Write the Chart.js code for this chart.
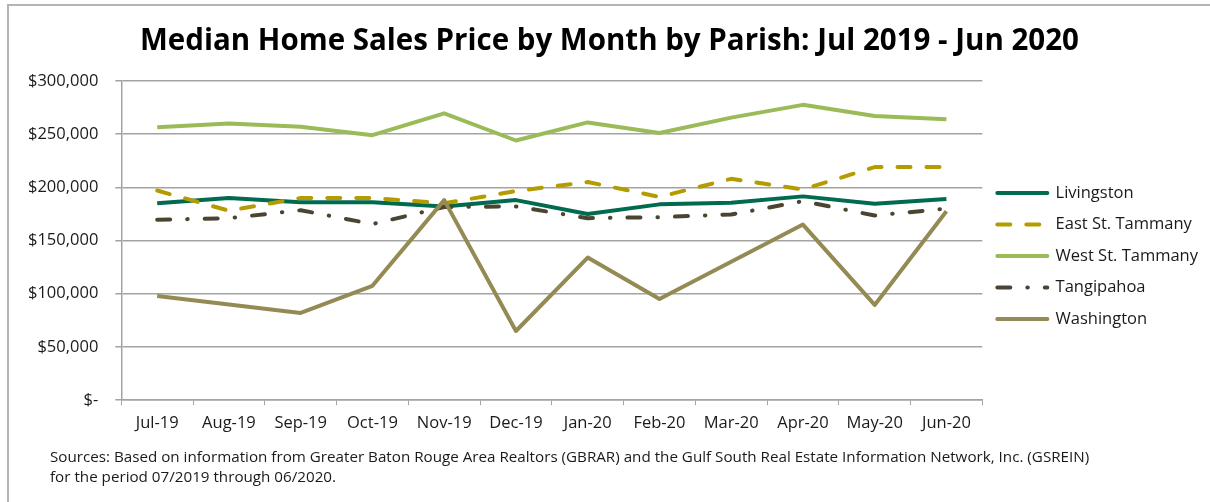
<!DOCTYPE html>
<html>
<head>
<meta charset="utf-8">
<script src="https://cdn.jsdelivr.net/npm/chart.js@4"></script>
<style>
  html, body { margin: 0; padding: 0; background: #fff; overflow: hidden; }
  #wrap { position: relative; width: 1210px; height: 502px; }
  #frame { position: absolute; left: 7px; top: 4px; width: 1300px; height: 600px;
           border: 2px solid #b4b4b4; box-sizing: border-box; }
  #grafico { position: absolute; left: 0; top: 0; }
  #fonte { position: absolute; left: 50px; top: 446px; font-family: "Open Sans", sans-serif;
           font-size: 15.2px; line-height: 20px; color: #1a1a1a; }
</style>
</head>
<body>
<div id="wrap">
  <div id="frame"></div>
  <canvas id="grafico" width="1210" height="502"></canvas>
  <div id="fonte">Sources: Based on information from Greater Baton Rouge Area Realtors (GBRAR) and the Gulf South Real Estate Information Network, Inc. (GSREIN)<br>for the period 07/2019 through 06/2020.</div>
</div>
<script>
// meses (eixo X)
const meses = ['Jul-19', 'Aug-19', 'Sep-19', 'Oct-19', 'Nov-19', 'Dec-19',
               'Jan-20', 'Feb-20', 'Mar-20', 'Apr-20', 'May-20', 'Jun-20'];

// preço mediano por paróquia
const livingston     = [185000, 190000, 186000, 186000, 182000, 188000, 175000, 184000, 185500, 191500, 184500, 189000];
const eastTammany    = [197000, 178000, 190000, 190000, 185000, 196500, 205000, 191000, 208000, 198000, 219000, 219000];
const westTammany    = [256500, 260000, 257000, 249000, 269500, 244000, 261000, 251000, 265500, 277500, 267000, 264000];
const tangipahoa     = [169500, 171000, 178500, 165500, 181500, 182000, 171000, 172000, 174500, 187000, 173500, 180000];
const washington     = [98000, 90000, 82000, 107500, 188000, 65000, 134000, 95000, 130000, 165000, 89500, 177500];

// eixo Y
const yMin = 0;
const yMax = 300000;
const yPasso = 50000;

const fonteBase = '"Open Sans", sans-serif';
const corTexto = '#1a1a1a';
const corGrade = '#a3a3a3';

function serie(nome, dados, cor, largura, traco, ordem) {
    return {
        label: nome,
        data: dados,
        borderColor: cor,
        backgroundColor: cor,
        borderWidth: largura,
        borderDash: traco,
        borderCapStyle: traco.length ? 'round' : 'butt',
        borderJoinStyle: 'round',
        pointRadius: 0,
        pointHoverRadius: 0,
        fill: false,
        tension: 0,
        order: ordem
    };
}

// legenda com o mesmo traço das linhas
function gerarLegenda(chart) {
    return chart.data.datasets.map((ds, i) => ({
        text: ds.label,
        datasetIndex: i,
        fillStyle: ds.borderColor,
        strokeStyle: ds.borderColor,
        lineWidth: ds.borderWidth,
        lineDash: ds.borderDash,
        lineCap: 'round',
        pointStyle: 'line',
        fontColor: corTexto,
        hidden: false
    }));
}

const ctx = document.getElementById('grafico').getContext('2d');

new Chart(ctx, {
    type: 'line',
    data: {
        labels: meses,
        datasets: [
            serie('Livingston', livingston, '#006b4e', 4, [], 4),
            serie('East St. Tammany', eastTammany, '#b49b00', 4, [13, 16], 3),
            serie('West St. Tammany', westTammany, '#9bbb59', 4, [], 2),
            serie('Tangipahoa', tangipahoa, '#4a4430', 4, [13, 17, 0.5, 17], 1),
            serie('Washington', washington, '#948a54', 4, [], 0)
        ]
    },
    options: {
        responsive: false,
        animation: false,
        layout: { padding: { left: 11, right: 2, top: 0, bottom: 61 } },
        plugins: {
            title: {
                display: true,
                text: 'Median Home Sales Price by Month by Parish: Jul 2019 - Jun 2020',
                color: '#000',
                font: { family: fonteBase, size: 29.5, weight: 'bold' },
                padding: { top: 24, bottom: 21.5 }
            },
            legend: {
                position: 'right',
                align: 'center',
                title: {
                    display: true,
                    text: ' ',
                    font: { size: 10 },
                    padding: { top: 59, bottom: 0 }
                },
                labels: {
                    usePointStyle: true,
                    pointStyle: 'line',
                    pointStyleWidth: 50,
                    color: corTexto,
                    font: { family: fonteBase, size: 16.5 },
                    padding: 15,
                    generateLabels: gerarLegenda
                }
            },
            tooltip: { enabled: false }
        },
        scales: {
            x: {
                offset: true,
                grid: {
                    display: true,
                    drawOnChartArea: false,
                    offset: true,
                    color: corGrade,
                    tickLength: 5
                },
                border: { color: corGrade, width: 1.5 },
                ticks: {
                    color: corTexto,
                    font: { family: fonteBase, size: 16.5 },
                    padding: 8,
                    maxRotation: 0,
                    autoSkip: false
                }
            },
            y: {
                min: yMin,
                max: yMax,
                grid: {
                    color: corGrade,
                    lineWidth: 1.5,
                    tickLength: 6
                },
                border: { color: corGrade, width: 1.5 },
                ticks: {
                    stepSize: yPasso,
                    color: corTexto,
                    font: { family: fonteBase, size: 16.5 },
                    padding: 17,
                    callback: v => v === 0 ? '$-' : '$' + v.toLocaleString('en-US')
                }
            }
        }
    }
});
</script>
</body>
</html>
